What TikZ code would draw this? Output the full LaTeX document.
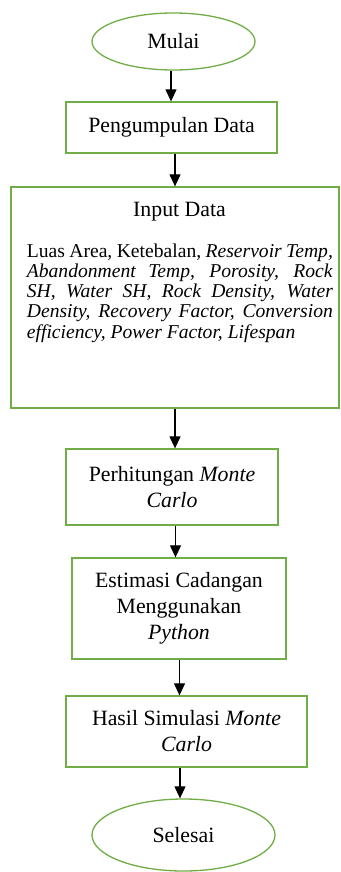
\documentclass[tikz,border=0pt]{standalone}
\usepackage{fontspec}
\setmainfont{Liberation Serif}
\usetikzlibrary{shapes.geometric,arrows.meta,calc}
\definecolor{boxgreen}{RGB}{112,173,71}
\begin{document}
\begin{tikzpicture}[x=1pt,y=1pt,
  titlefont/.style={font=\fontsize{21.8pt}{26pt}\selectfont},
  box/.style={draw=boxgreen,line width=1.3pt,rectangle,inner sep=0pt,align=center,titlefont},
  term/.style={draw=boxgreen,line width=1.3pt,ellipse,inner sep=0pt,titlefont},
  arr/.style={line width=1.2pt,-{Triangle[length=12pt,width=11pt]}}]
\useasboundingbox (0,0) rectangle (340,-872);
% nodes
\node[term,minimum width=163pt,minimum height=57pt] (mulai) at (173.5,-41.5) {Mulai};
\node[box,minimum width=211pt,minimum height=51pt] (peng) at (171.5,-127.5) {Pengumpulan Data};
\node[box,minimum width=328pt,minimum height=221pt] (input) at (175,-297.5) {};
\node[titlefont,inner sep=0pt,anchor=base] (inputtitle) at (179.5,-216.7) {Input Data};
\node[text width=306pt,align=justify,anchor=north west,inner sep=0pt,
      font=\fontsize{19.6pt}{20.3pt}\selectfont] (inputbody) at (26.7,-243.2)
  {\hyphenpenalty=10000 Luas Area, Ketebalan, \textit{Reservoir Temp,}\linebreak
   \textit{Abandonment Temp, Porosity, Rock}\linebreak
   \textit{SH, Water SH, Rock Density, Water}\linebreak
   \textit{Density, Recovery Factor, Conversion}\linebreak
   \textit{efficiency, Power Factor, Lifespan}};
\node[box,minimum width=212pt,minimum height=76pt] (mc) at (172,-487) {Perhitungan \textit{Monte}\\\textit{Carlo}};
\node[box,minimum width=214pt,minimum height=101pt] (est) at (179,-608.5) {Estimasi Cadangan\\Menggunakan\\\textit{Python}};
\node[box,minimum width=241pt,minimum height=71pt] (hasil) at (186.5,-731.5) {Hasil Simulasi \textit{Monte}\\\textit{Carlo}};
\node[term,minimum width=183pt,minimum height=72pt] (selesai) at (183.5,-835) {Selesai};
% connector x positions
\coordinate (c1) at (171,0);
\coordinate (c2) at (175,0);
\coordinate (c3) at (175,0);
\coordinate (c4) at (175.5,0);
\coordinate (c5) at (179.5,0);
\coordinate (c6) at (180,0);
\draw[arr] (mulai.south -| c1) -- (peng.north -| c1);
\draw[arr] (peng.south -| c2) -- (input.north -| c2);
\draw[arr] (input.south -| c3) -- (mc.north -| c3);
\draw[arr] (mc.south -| c4) -- (est.north -| c4);
\draw[arr] (est.south -| c5) -- (hasil.north -| c5);
\draw[arr] (hasil.south -| c6) -- (selesai.north -| c6);
\end{tikzpicture}
\end{document}
